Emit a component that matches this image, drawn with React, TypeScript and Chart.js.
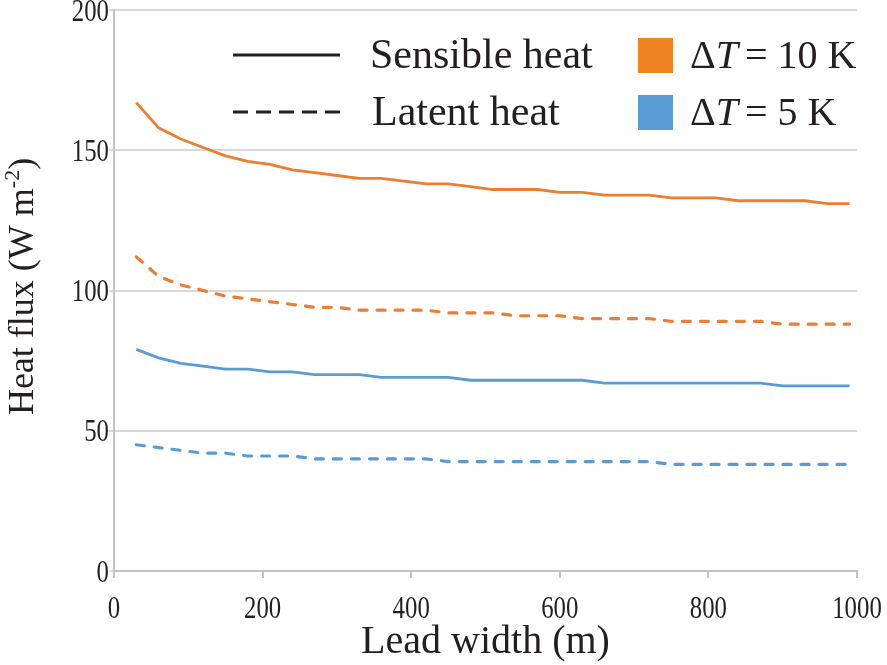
import React, { useEffect, useRef } from 'react';
import { Chart, registerables } from 'chart.js';

Chart.register(...registerables);

// Lead width (m)
const leadWidths = [30, 60, 90, 120, 150, 180, 210, 240, 270, 300, 330, 360, 390, 420, 450, 480, 510, 540, 570, 600, 630, 660, 690, 720, 750, 780, 810, 840, 870, 900, 930, 960, 990];
// Heat flux (W m-2)
const sensible10K = [167, 158, 154, 151, 148, 146, 145, 143, 142, 141, 140, 140, 139, 138, 138, 137, 136, 136, 136, 135, 135, 134, 134, 134, 133, 133, 133, 132, 132, 132, 132, 131, 131];
const latent10K = [112, 105, 102, 100, 98, 97, 96, 95, 94, 94, 93, 93, 93, 93, 92, 92, 92, 91, 91, 91, 90, 90, 90, 90, 89, 89, 89, 89, 89, 88, 88, 88, 88];
const sensible5K = [79, 76, 74, 73, 72, 72, 71, 71, 70, 70, 70, 69, 69, 69, 69, 68, 68, 68, 68, 68, 68, 67, 67, 67, 67, 67, 67, 67, 67, 66, 66, 66, 66];
const latent5K = [45, 44, 43, 42, 42, 41, 41, 41, 40, 40, 40, 40, 40, 40, 39, 39, 39, 39, 39, 39, 39, 39, 39, 39, 38, 38, 38, 38, 38, 38, 38, 38, 38];

const xTickValues = [0, 200, 400, 600, 800, 1000];
const yTickValues = [0, 50, 100, 150, 200];

const xTitle = 'Lead width (m)';
const yTitleMain = 'Heat flux (W m';
const yTitleSup = '-2';
const yTitleTail = ')';
const legendLineLabels = ['Sensible heat', 'Latent heat'];
const legendColorLabels = ['= 10 K', '= 5 K'];

const FONT = '"Liberation Serif", "Times New Roman", serif';
const TEXT = '#231F20';
const ORANGE = '#ED7D31';
const BLUE = '#5B9BD5';
const ORANGE_SQ = '#EF8420';
const BLUE_SQ = '#5B9BD5';
const GRID = '#D9D9D9';
const AXIS = '#C4C4C4';

const toPoints = (ys: number[]) => ys.map((y, i) => ({ x: leadWidths[i], y }));

const drawCondensed = (ctx: CanvasRenderingContext2D, text: string, x: number, y: number, sx: number) => {
  ctx.save();
  ctx.translate(x, y);
  ctx.scale(sx, 1);
  ctx.fillText(text, 0, 0);
  ctx.restore();
};

const overlayPlugin = {
  id: 'overlay',
  afterDraw(chart: any) {
    const { ctx, chartArea } = chart;
    const xs = chart.scales.x;
    const ys = chart.scales.y;
    ctx.save();
    ctx.fillStyle = TEXT;
    ctx.textBaseline = 'alphabetic';

    // Tick labels (positions from the library's scales)
    ctx.font = `31px ${FONT}`;
    ctx.textAlign = 'center';
    xs.ticks.forEach((t: any) => {
      drawCondensed(ctx, String(t.value), xs.getPixelForValue(t.value), 618, 0.8);
    });
    ctx.textAlign = 'right';
    ys.ticks.forEach((t: any) => {
      drawCondensed(ctx, String(t.value), 109, ys.getPixelForValue(t.value) + 10.5, 0.8);
    });

    // X title
    ctx.font = `40px ${FONT}`;
    ctx.textAlign = 'center';
    ctx.fillText(xTitle, (chartArea.left + chartArea.right) / 2, 653);

    // Y title (rotated, with superscript)
    ctx.save();
    ctx.translate(33, (chartArea.top + chartArea.bottom) / 2 - 4);
    ctx.rotate(-Math.PI / 2);
    ctx.textAlign = 'left';
    ctx.font = `36px ${FONT}`;
    const w1 = ctx.measureText(yTitleMain).width;
    const w3 = ctx.measureText(yTitleTail).width;
    ctx.font = `22px ${FONT}`;
    const w2 = ctx.measureText(yTitleSup).width;
    const total = w1 + w2 + w3;
    let x0 = -total / 2;
    ctx.font = `36px ${FONT}`;
    ctx.fillText(yTitleMain, x0, 0);
    x0 += w1;
    ctx.font = `22px ${FONT}`;
    ctx.fillText(yTitleSup, x0, -14);
    x0 += w2;
    ctx.font = `36px ${FONT}`;
    ctx.fillText(yTitleTail, x0, 0);
    ctx.restore();

    // Legend: line styles
    ctx.strokeStyle = TEXT;
    ctx.lineWidth = 3;
    ctx.beginPath();
    ctx.moveTo(233, 55);
    ctx.lineTo(340, 55);
    ctx.stroke();
    ctx.setLineDash([15, 8]);
    ctx.beginPath();
    ctx.moveTo(233, 112);
    ctx.lineTo(340, 112);
    ctx.stroke();
    ctx.setLineDash([]);

    ctx.font = `42px ${FONT}`;
    ctx.textAlign = 'left';
    ctx.fillText(legendLineLabels[0], 370, 68);
    ctx.fillText(legendLineLabels[1], 372, 125);

    // Legend: colour squares
    ctx.fillStyle = ORANGE_SQ;
    ctx.fillRect(638, 38, 35, 35);
    ctx.fillStyle = BLUE_SQ;
    ctx.fillRect(638, 95, 35, 35);

    ctx.fillStyle = TEXT;
    const rows = [68, 125];
    rows.forEach((by, i) => {
      let x = 690;
      ctx.font = `40px ${FONT}`;
      ctx.fillText('\u0394', x, by);
      x += ctx.measureText('\u0394').width;
      ctx.font = `italic 40px ${FONT}`;
      ctx.fillText('T', x, by);
      x += ctx.measureText('T').width + 7;
      ctx.font = `40px ${FONT}`;
      ctx.fillText(legendColorLabels[i], x, by);
    });

    ctx.restore();
  },
};

export default function App() {
  const canvasRef = useRef<HTMLCanvasElement | null>(null);

  useEffect(() => {
    if (!canvasRef.current) return;
    const chart = new Chart(canvasRef.current, {
      type: 'line',
      data: {
        datasets: [
          {
            label: 'Sensible heat, ΔT = 10 K',
            data: toPoints(sensible10K),
            borderColor: ORANGE,
            borderWidth: 2.8,
            pointRadius: 0,
            tension: 0,
          },
          {
            label: 'Latent heat, ΔT = 10 K',
            data: toPoints(latent10K),
            borderColor: ORANGE,
            borderWidth: 3.2,
            borderDash: [8, 10],
            borderCapStyle: 'round',
            pointRadius: 0,
            tension: 0,
          },
          {
            label: 'Sensible heat, ΔT = 5 K',
            data: toPoints(sensible5K),
            borderColor: BLUE,
            borderWidth: 2.8,
            pointRadius: 0,
            tension: 0,
          },
          {
            label: 'Latent heat, ΔT = 5 K',
            data: toPoints(latent5K),
            borderColor: BLUE,
            borderWidth: 3.2,
            borderDash: [8, 10],
            borderCapStyle: 'round',
            pointRadius: 0,
            tension: 0,
          },
        ],
      },
      options: {
        animation: false,
        responsive: false,
        devicePixelRatio: 1,
        layout: { padding: { left: 0, right: 30, top: 10, bottom: 0 } },
        plugins: {
          legend: { display: false },
          tooltip: { enabled: false },
        },
        scales: {
          x: {
            type: 'linear',
            min: 0,
            max: 1000,
            afterBuildTicks: (scale: any) => {
              scale.ticks = xTickValues.map((v) => ({ value: v }));
            },
            afterFit: (scale: any) => {
              scale.height = 94;
              scale.paddingLeft = 0;
              scale.paddingRight = 0;
            },
            grid: {
              display: true,
              drawOnChartArea: false,
              drawTicks: true,
              tickLength: 7,
              color: AXIS,
              lineWidth: 2,
            },
            border: { display: true, color: AXIS, width: 2 },
            ticks: { display: false },
          },
          y: {
            type: 'linear',
            min: 0,
            max: 200,
            afterBuildTicks: (scale: any) => {
              scale.ticks = yTickValues.map((v) => ({ value: v }));
            },
            afterFit: (scale: any) => {
              scale.width = 114;
              scale.paddingTop = 0;
              scale.paddingBottom = 0;
            },
            grid: {
              color: GRID,
              lineWidth: 2,
              drawTicks: true,
              tickLength: 5,
            },
            border: { display: true, color: AXIS, width: 2 },
            ticks: { display: false },
          },
        },
      },
      plugins: [overlayPlugin],
    } as any);
    return () => chart.destroy();
  }, []);

  return (
    <div style={{ position: 'fixed', left: 0, top: 0, width: 887, height: 665, background: '#fff' }}>
      <canvas ref={canvasRef} width={887} height={665} style={{ width: 887, height: 665, display: 'block' }} />
    </div>
  );
}
